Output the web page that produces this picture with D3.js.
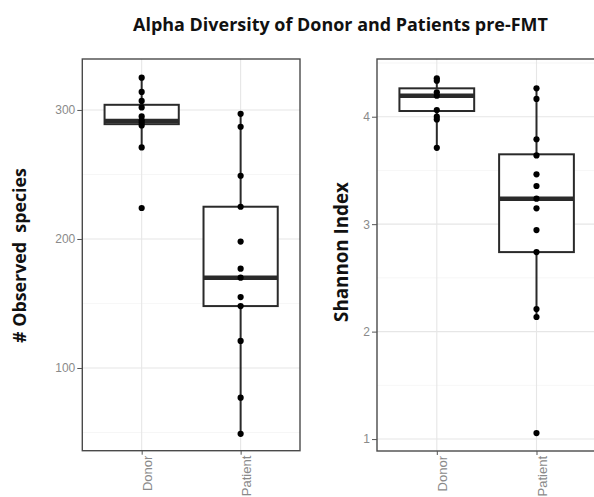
<!DOCTYPE html>
<html><head><meta charset="utf-8">
<script src="https://cdn.jsdelivr.net/npm/d3@7"></script>
<style>body{margin:0;background:#fff}svg{display:block}</style>
</head><body>
<svg id="c" width="594" height="497"></svg>
<script>
// ---- data ----
const groups = ["Donor", "Patient"];
const donorObserved = [325, 314, 307, 302, 295, 292, 290, 288, 271, 224];
const patientObserved = [297, 287, 249, 225, 198, 177, 170, 155, 148, 121, 77, 49];
const donorShannon = [4.357, 4.335, 4.227, 4.195, 4.062, 4.0, 3.975, 3.71];
const patientShannon = [4.264, 4.165, 3.79, 3.64, 3.464, 3.355, 3.237, 3.147, 2.945, 2.74, 2.21, 2.136, 1.056];
// box stats: [whiskerLow, q1, median, q3, whiskerHigh]
const observedBoxDonor = [271, 289, 291.5, 304, 325];
const observedBoxPatient = [49, 148, 170, 225, 297];
const shannonBoxDonor = [3.71, 4.053, 4.195, 4.264, 4.357];
const shannonBoxPatient = [2.136, 2.74, 3.237, 3.65, 4.264];
const observedTicks = [100, 200, 300];
const observedMinor = [50, 150, 250];
const shannonTicks = [1, 2, 3, 4];
const shannonMinor = [1.5, 2.5, 3.5, 4.5];
const titleText = "Alpha Diversity of Donor and Patients pre-FMT";

const svg = d3.select("#c");

function fitText(sel, target) {
  const len = sel.node().getComputedTextLength();
  const fs = parseFloat(sel.attr("font-size"));
  sel.attr("font-size", fs * target / len);
}

const title = svg.append("text")
  .attr("x", 340.5).attr("y", 31)
  .attr("text-anchor", "middle")
  .attr("font-family", "Open Sans, sans-serif")
  .attr("font-weight", 700).attr("font-size", 14)
  .attr("fill", "#111").text(titleText);
fitText(title, 415);

function panel(cfg) {
  const g = svg.append("g");
  const x = d3.scalePoint().domain(groups).range([cfg.left, cfg.right]).padding(0.6);
  const y = d3.scaleLinear().domain(cfg.domain).range([cfg.bottom, cfg.top]);
  const step = x.step();
  const bw = step * 0.75;

  // grid
  g.selectAll(".minor").data(cfg.minor.filter(v => v >= cfg.domain[0] && v <= cfg.domain[1]))
    .join("line").attr("x1", cfg.left).attr("x2", cfg.right)
    .attr("y1", d => y(d)).attr("y2", d => y(d))
    .attr("stroke", "#f2f2f2").attr("stroke-width", 0.7);
  g.selectAll(".major").data(cfg.ticks)
    .join("line").attr("x1", cfg.left).attr("x2", cfg.right)
    .attr("y1", d => y(d)).attr("y2", d => y(d))
    .attr("stroke", "#e6e6e6").attr("stroke-width", 1.1);
  g.selectAll(".vmajor").data(groups)
    .join("line").attr("x1", d => x(d)).attr("x2", d => x(d))
    .attr("y1", cfg.top).attr("y2", cfg.bottom)
    .attr("stroke", "#e6e6e6").attr("stroke-width", 1.1);

  const boxes = [{g: "Donor", s: cfg.boxes[0]}, {g: "Patient", s: cfg.boxes[1]}];
  boxes.forEach(b => {
    const cx = x(b.g), s = b.s;
    g.append("line").attr("x1", cx).attr("x2", cx).attr("y1", y(s[3])).attr("y2", y(s[4]))
      .attr("stroke", "#2a2a2a").attr("stroke-width", 2);
    g.append("line").attr("x1", cx).attr("x2", cx).attr("y1", y(s[1])).attr("y2", y(s[0]))
      .attr("stroke", "#2a2a2a").attr("stroke-width", 2);
    g.append("rect").attr("x", cx - bw / 2).attr("width", bw)
      .attr("y", y(s[3])).attr("height", y(s[1]) - y(s[3]))
      .attr("fill", "#fff").attr("stroke", "#2a2a2a").attr("stroke-width", 2);
    g.append("line").attr("x1", cx - bw / 2).attr("x2", cx + bw / 2)
      .attr("y1", y(s[2])).attr("y2", y(s[2]))
      .attr("stroke", "#2a2a2a").attr("stroke-width", 4.5);
  });

  const pts = [];
  cfg.points[0].forEach(v => pts.push({g: "Donor", v}));
  cfg.points[1].forEach(v => pts.push({g: "Patient", v}));
  g.selectAll(".pt").data(pts).join("circle")
    .attr("cx", d => x(d.g)).attr("cy", d => y(d.v)).attr("r", 3.1).attr("fill", "#000");

  // border
  g.append("rect").attr("x", cfg.left).attr("y", cfg.top)
    .attr("width", cfg.right - cfg.left).attr("height", cfg.bottom - cfg.top)
    .attr("fill", "none").attr("stroke", "#4a4a4a").attr("stroke-width", 1.4);

  // y axis
  const ya = g.append("g").attr("transform", `translate(${cfg.left},0)`)
    .call(d3.axisLeft(y).tickValues(cfg.ticks).tickSize(5).tickPadding(2).tickFormat(d3.format("d")));
  ya.select(".domain").remove();
  ya.selectAll(".tick line").attr("stroke", "#555").attr("stroke-width", 1);
  ya.selectAll(".tick text").attr("fill", "#8a8a8a").attr("font-size", 12)
    .attr("font-family", "Liberation Sans, Arial, sans-serif");

  // x axis
  const xa = g.append("g").attr("transform", `translate(0,${cfg.bottom})`)
    .call(d3.axisBottom(x).tickSize(4).tickSizeOuter(0));
  xa.select(".domain").remove();
  xa.selectAll(".tick line").attr("stroke", "#555");
  xa.selectAll(".tick text").attr("fill", "#8a8a8a").attr("font-size", 13)
    .attr("font-family", "Liberation Sans, Arial, sans-serif")
    .attr("text-anchor", "end").attr("dy", null)
    .attr("transform", "translate(5.5,5) rotate(-90)")
    .attr("x", 0).attr("y", 0).attr("dominant-baseline", "central");

  const yt = svg.append("text")
    .attr("transform", `translate(${cfg.titleX},${cfg.titleY}) rotate(-90)`)
    .attr("text-anchor", "middle").attr("dominant-baseline", "central")
    .attr("font-family", "Open Sans, sans-serif").attr("font-weight", 700)
    .attr("font-size", 15).attr("fill", "#111")
    .style("white-space", "pre").text(cfg.label);
  fitText(yt, cfg.labelLen);
}

panel({left: 82.3, right: 300, top: 59, bottom: 450.7,
  domain: [35.9, 339.5], ticks: observedTicks, minor: observedMinor,
  boxes: [observedBoxDonor, observedBoxPatient], points: [donorObserved, patientObserved],
  label: "# Observed  species", titleX: 19, titleY: 255.5, labelLen: 175});

panel({left: 377, right: 596.3, top: 59, bottom: 451,
  domain: [0.889, 4.537], ticks: shannonTicks, minor: shannonMinor,
  boxes: [shannonBoxDonor, shannonBoxPatient], points: [donorShannon, patientShannon],
  label: "Shannon Index", titleX: 341, titleY: 252, labelLen: 140});
</script>
</body></html>
